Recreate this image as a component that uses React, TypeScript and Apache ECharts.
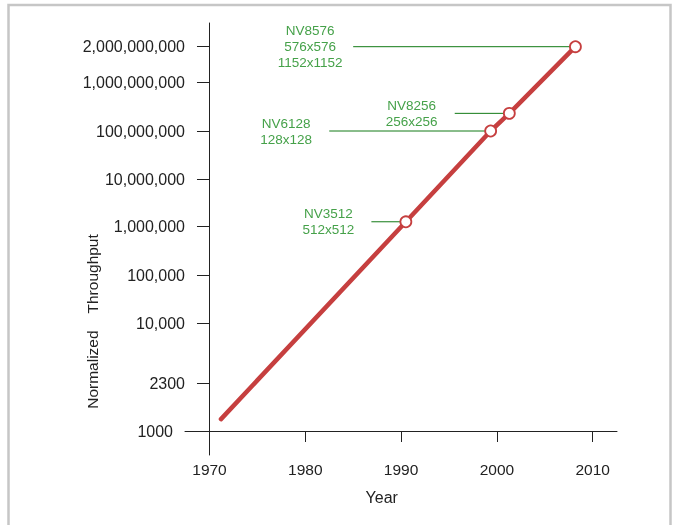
import React, { useEffect, useRef } from "react";
import * as echarts from "echarts";

// Irregular (hand-drawn) log-like throughput axis of the original figure
const axisTickValues = [1000, 2300, 10000, 100000, 1000000, 10000000, 100000000, 1000000000, 2000000000];
const axisTickLabels = ["1000", "2300", "10,000", "100,000", "1,000,000", "10,000,000", "100,000,000", "1,000,000,000", "2,000,000,000"];
const axisTickOffsets = [0, 47.7, 107.7, 155.7, 204.3, 251.7, 300, 348.3, 384.3];

const xTickYears = [1970, 1980, 1990, 2000, 2010];

// Throughput trend line
const lineYears = [1971.2, 1990.5, 1999.35, 2001.3, 2008.2];
const lineValues = [1230, 1270000, 100000000, 232000000, 2000000000];

// Annotated chips
const chipNames = ["NV3512", "NV6128", "NV8256", "NV8576"];
const chipSpecs = [["512x512"], ["128x128"], ["256x256"], ["576x576", "1152x1152"]];
const chipYears = [1990.5, 1999.35, 2001.3, 2008.2];
const chipValues = [1270000, 100000000, 232000000, 2000000000];
const leaderFromYears = [1986.9, 1982.5, 1995.6, 1985.0];

const BASE_YEAR = 1970;
const RED = "#c63f3f";
const GREEN_TEXT = "#168a1c";
const GREEN_LINE = "#127a16";
const AXIS = "#222222";
const FONT = "'Liberation Sans', Arial, Helvetica, sans-serif";

function toPos(v: number): number {
  const n = axisTickValues.length;
  let i = 0;
  while (i < n - 2 && v > axisTickValues[i + 1]) i++;
  const v0 = axisTickValues[i];
  const v1 = axisTickValues[i + 1];
  const p0 = axisTickOffsets[i];
  const p1 = axisTickOffsets[i + 1];
  return p0 + ((Math.log(v) - Math.log(v0)) / (Math.log(v1) - Math.log(v0))) * (p1 - p0);
}

export default function App() {
  const ref = useRef<HTMLDivElement>(null);
  useEffect(() => {
    if (!ref.current) return;
    const chart = echarts.init(ref.current, null, { renderer: "svg" });

    const leaderSeries = chipNames.map((name, i) => ({
      type: "line",
      name: name + " leader",
      data: [
        [leaderFromYears[i] - BASE_YEAR, toPos(chipValues[i])],
        [chipYears[i] - BASE_YEAR, toPos(chipValues[i])],
      ],
      showSymbol: false,
      symbol: "none",
      lineStyle: { color: GREEN_LINE, width: 1 },
      z: 2,
      silent: true,
    }));

    chart.setOption({
      animation: false,
      grid: { left: 185, right: 59, top: 23, bottom: 70, outerBoundsMode: "none", containLabel: false },
      xAxis: {
        type: "value",
        min: -2.557,
        max: 42.54,
        axisLine: { show: true, onZero: true, lineStyle: { color: AXIS, width: 1 } },
        axisTick: { show: true, length: 11, customValues: xTickYears.map((y) => y - BASE_YEAR), lineStyle: { color: AXIS } },
        axisLabel: {
          customValues: xTickYears.map((y) => y - BASE_YEAR),
          formatter: (v: number) => String(Math.round(v) + BASE_YEAR),
          margin: 6,
          color: AXIS,
          fontSize: 15.5,
          fontFamily: FONT,
        },
        splitLine: { show: false },
      },
      yAxis: {
        type: "value",
        min: -24,
        max: 408,
        axisLine: { show: true, onZero: true, lineStyle: { color: AXIS, width: 1 } },
        axisTick: { show: true, length: 12.5, customValues: axisTickOffsets, lineStyle: { color: AXIS } },
        axisLabel: {
          customValues: axisTickOffsets,
          formatter: (v: number) => {
            let idx = 0;
            let best = Infinity;
            axisTickOffsets.forEach((o, k) => {
              const d = Math.abs(o - v);
              if (d < best) { best = d; idx = k; }
            });
            return idx === 0 ? "{p|" + axisTickLabels[0] + "}" : axisTickLabels[idx];
          },
          margin: 0,
          align: "right",
          color: AXIS,
          fontSize: 16,
          fontFamily: FONT,
          rich: { p: { padding: [0, 12, 0, 0], color: AXIS, fontSize: 16, fontFamily: FONT } },
        },
        splitLine: { show: false },
      },
      graphic: [
        {
          type: "rect",
          shape: { x: 8.5, y: 5, width: 662, height: 560 },
          style: { fill: "none", stroke: "#c6c6c6", lineWidth: 2.5 },
          silent: true,
          z: -1,
        },
        {
          type: "text",
          x: 381.7,
          y: 497.7,
          style: { text: "Year", fill: AXIS, fontSize: 16, fontFamily: FONT, textAlign: "center", textVerticalAlign: "middle" },
        },
        {
          type: "text",
          x: 92,
          y: 321.5,
          rotation: Math.PI / 2,
          style: { text: "Normalized    Throughput", fill: AXIS, fontSize: 15.5, fontFamily: FONT, textAlign: "center", textVerticalAlign: "middle" },
        },
      ],
      series: [
        {
          type: "line",
          name: "Throughput",
          data: lineYears.map((y, i) => [y - BASE_YEAR, toPos(lineValues[i])]),
          showSymbol: false,
          symbol: "none",
          lineStyle: { color: RED, width: 4.5, cap: "round", join: "round" },
          z: 3,
          silent: true,
        },
        ...leaderSeries,
        {
          type: "scatter",
          name: "chips",
          data: chipNames.map((n, i) => ({ name: n, value: [chipYears[i] - BASE_YEAR, toPos(chipValues[i])] })),
          symbol: "circle",
          symbolSize: 11,
          itemStyle: { color: "#ffffff", borderColor: RED, borderWidth: 1.8, opacity: 1 },
          z: 5,
          silent: true,
        },
        {
          type: "scatter",
          name: "labels",
          data: chipNames.map((n, i) => ({ name: n, value: [leaderFromYears[i] - BASE_YEAR, toPos(chipValues[i])] })),
          symbolSize: 0,
          label: {
            show: true,
            position: "left",
            distance: 43,
            align: "center",
            verticalAlign: "middle",
            formatter: (p: any) => [chipNames[p.dataIndex], ...chipSpecs[p.dataIndex]].join("\n"),
            color: GREEN_TEXT,
            fontSize: 13.5,
            lineHeight: 16,
            fontFamily: FONT,
          },
          z: 6,
          silent: true,
        },
      ],
    });
    return () => chart.dispose();
  }, []);
  return <div ref={ref} style={{ position: "fixed", left: 0, top: 0, width: 676, height: 525 }} />;
}
